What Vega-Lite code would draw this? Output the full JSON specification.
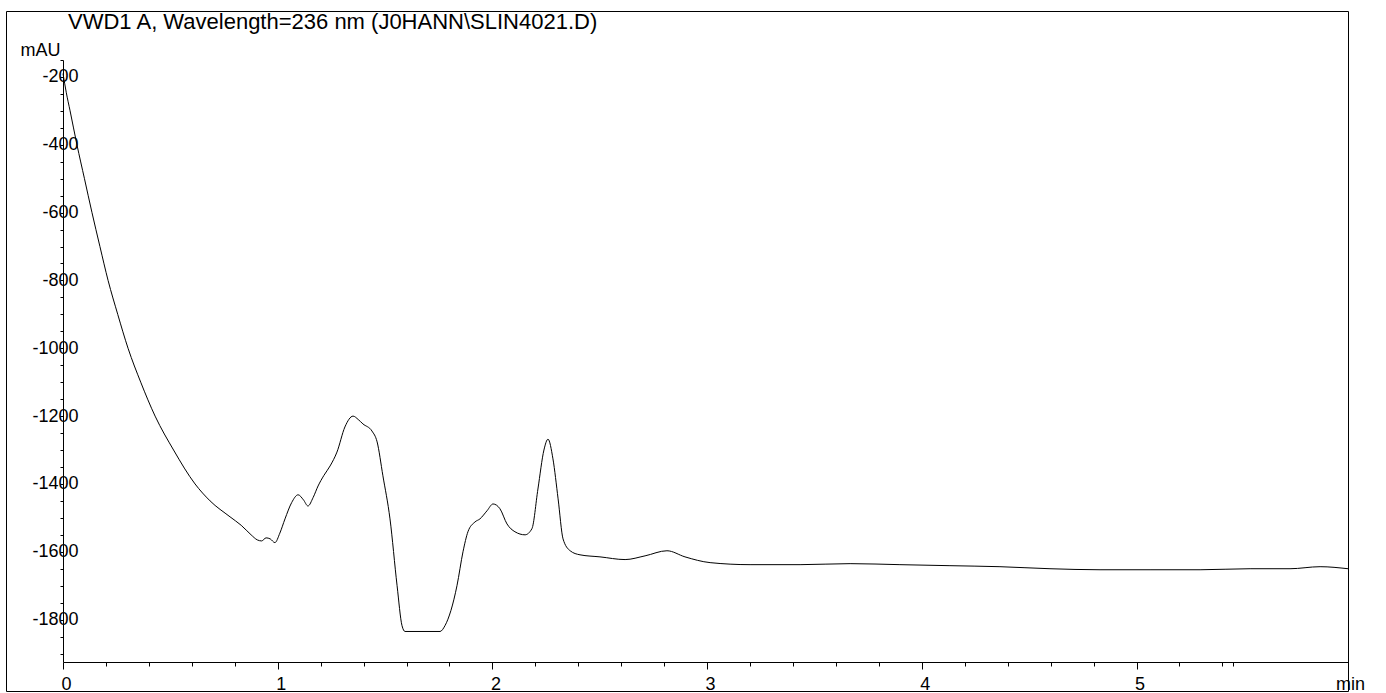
{
  "$schema": "https://vega.github.io/schema/vega-lite/v6.json",
  "width": 1342,
  "height": 680,
  "autosize": {"type": "none"},
  "padding": {"left": 6, "top": 11, "right": 38, "bottom": 2},
  "background": "white",
  "config": {
    "view": {"stroke": "#000", "strokeWidth": 1},
    "font": "Liberation Sans"
  },
  "title": {
    "text": "VWD1 A, Wavelength=236 nm (J0HANN\\SLIN4021.D)",
    "anchor": "start",
    "frame": "group",
    "orient": "top",
    "offset": -20,
    "baseline": "bottom",
    "dx": 62,
    "dy": 25,
    "fontSize": 22,
    "fontWeight": "normal",
    "font": "Liberation Sans",
    "color": "#000"
  },
  "data": {
    "values": [
      {"t": 0, "mAU": -190},
      {"t": 0.015, "mAU": -245},
      {"t": 0.033, "mAU": -300},
      {"t": 0.065, "mAU": -400},
      {"t": 0.1, "mAU": -500},
      {"t": 0.135, "mAU": -600},
      {"t": 0.172, "mAU": -700},
      {"t": 0.21, "mAU": -800},
      {"t": 0.255, "mAU": -900},
      {"t": 0.303, "mAU": -1000},
      {"t": 0.362, "mAU": -1100},
      {"t": 0.429, "mAU": -1200},
      {"t": 0.515, "mAU": -1300},
      {"t": 0.615, "mAU": -1400},
      {"t": 0.685, "mAU": -1450},
      {"t": 0.778, "mAU": -1497},
      {"t": 0.83, "mAU": -1522},
      {"t": 0.876, "mAU": -1550},
      {"t": 0.905, "mAU": -1565},
      {"t": 0.925, "mAU": -1568},
      {"t": 0.946, "mAU": -1559},
      {"t": 0.965, "mAU": -1562},
      {"t": 0.987, "mAU": -1573},
      {"t": 1.01, "mAU": -1545},
      {"t": 1.034, "mAU": -1503},
      {"t": 1.065, "mAU": -1455},
      {"t": 1.095, "mAU": -1432},
      {"t": 1.12, "mAU": -1447},
      {"t": 1.141, "mAU": -1465},
      {"t": 1.165, "mAU": -1440},
      {"t": 1.188, "mAU": -1406},
      {"t": 1.215, "mAU": -1375},
      {"t": 1.244, "mAU": -1347},
      {"t": 1.276, "mAU": -1306},
      {"t": 1.313, "mAU": -1232},
      {"t": 1.351, "mAU": -1200},
      {"t": 1.375, "mAU": -1210},
      {"t": 1.397, "mAU": -1223},
      {"t": 1.439, "mAU": -1244},
      {"t": 1.463, "mAU": -1276},
      {"t": 1.49, "mAU": -1376},
      {"t": 1.523, "mAU": -1503},
      {"t": 1.556, "mAU": -1700},
      {"t": 1.579, "mAU": -1818},
      {"t": 1.593, "mAU": -1835},
      {"t": 1.756, "mAU": -1835},
      {"t": 1.779, "mAU": -1818},
      {"t": 1.835, "mAU": -1700},
      {"t": 1.863, "mAU": -1600},
      {"t": 1.886, "mAU": -1541},
      {"t": 1.919, "mAU": -1512},
      {"t": 1.942, "mAU": -1503},
      {"t": 1.975, "mAU": -1479},
      {"t": 2.003, "mAU": -1459},
      {"t": 2.035, "mAU": -1473},
      {"t": 2.068, "mAU": -1518},
      {"t": 2.105, "mAU": -1541},
      {"t": 2.152, "mAU": -1550},
      {"t": 2.184, "mAU": -1532},
      {"t": 2.212, "mAU": -1415},
      {"t": 2.24, "mAU": -1300},
      {"t": 2.259, "mAU": -1268},
      {"t": 2.282, "mAU": -1326},
      {"t": 2.306, "mAU": -1444},
      {"t": 2.329, "mAU": -1562},
      {"t": 2.362, "mAU": -1597},
      {"t": 2.408, "mAU": -1609},
      {"t": 2.501, "mAU": -1615},
      {"t": 2.618, "mAU": -1623},
      {"t": 2.711, "mAU": -1612},
      {"t": 2.813, "mAU": -1597},
      {"t": 2.897, "mAU": -1615},
      {"t": 3.014, "mAU": -1632},
      {"t": 3.2, "mAU": -1638},
      {"t": 3.433, "mAU": -1638},
      {"t": 3.666, "mAU": -1635},
      {"t": 3.898, "mAU": -1638},
      {"t": 4.131, "mAU": -1641},
      {"t": 4.364, "mAU": -1644},
      {"t": 4.597, "mAU": -1650},
      {"t": 4.83, "mAU": -1653},
      {"t": 5.063, "mAU": -1653},
      {"t": 5.296, "mAU": -1653},
      {"t": 5.529, "mAU": -1650},
      {"t": 5.715, "mAU": -1650},
      {"t": 5.855, "mAU": -1644},
      {"t": 5.985, "mAU": -1650}
    ]
  },
  "mark": {"type": "line", "color": "#000", "strokeWidth": 1, "interpolate": "monotone"},
  "encoding": {
    "x": {
      "field": "t",
      "type": "quantitative",
      "scale": {"domain": [0, 5.985], "range": [57, 1342], "nice": false, "zero": false},
      "axis": {
        "orient": "bottom",
        "offset": -29,
        "values": [0, 0.2, 0.4, 0.6, 0.8, 1, 1.2, 1.4, 1.6, 1.8, 2, 2.2, 2.4, 2.6, 2.8, 3, 3.2, 3.4, 3.6, 3.8, 4, 4.2, 4.4, 4.6, 4.8, 5, 5.2, 5.4, 5.45],
        "labelExpr": "abs(datum.value - round(datum.value)) < 0.001 ? '' + round(datum.value) : ''",
        "tickSize": {"condition": {"test": "abs(datum.value - round(datum.value)) < 0.001", "value": 7}, "value": 4},
        "labelPadding": 6,
        "labelOffset": 3,
        "labelFontSize": 18,
        "labelFont": "Liberation Sans",
        "labelColor": "#000",
        "labelOverlap": false,
        "labelFlush": false,
        "grid": false,
        "domainColor": "#000",
        "domainWidth": 1,
        "tickColor": "#000",
        "tickWidth": 1,
        "title": "min",
        "titleX": 1344,
        "titleY": 22,
        "titleAlign": "center",
        "titleBaseline": "middle",
        "titleFontSize": 18,
        "titleFontWeight": "normal",
        "titleFont": "Liberation Sans",
        "titleColor": "#000"
      }
    },
    "y": {
      "field": "mAU",
      "type": "quantitative",
      "scale": {"domain": [-1925, -150], "range": [651, 49], "nice": false, "zero": false},
      "axis": {
        "orient": "left",
        "offset": -57,
        "values": [-1900, -1850, -1800, -1750, -1700, -1650, -1600, -1550, -1500, -1450, -1400, -1350, -1300, -1250, -1200, -1150, -1100, -1050, -1000, -950, -900, -850, -800, -750, -700, -650, -600, -550, -500, -450, -400, -350, -300, -250, -200, -150],
        "labelExpr": "datum.value % 200 === 0 ? '-' + abs(datum.value) : ''",
        "tickSize": 3,
        "labelAlign": "right",
        "labelBaseline": "middle",
        "labelPadding": -18,
        "labelFontSize": 18,
        "labelFont": "Liberation Sans",
        "labelColor": "#000",
        "labelOverlap": false,
        "labelFlush": false,
        "grid": false,
        "domainColor": "#000",
        "domainWidth": 1,
        "tickColor": "#000",
        "tickWidth": 1,
        "title": "mAU",
        "titleAngle": 0,
        "titleX": -23,
        "titleY": 39,
        "titleAlign": "center",
        "titleBaseline": "middle",
        "titleFontSize": 18,
        "titleFontWeight": "normal",
        "titleFont": "Liberation Sans",
        "titleColor": "#000"
      }
    }
  }
}
